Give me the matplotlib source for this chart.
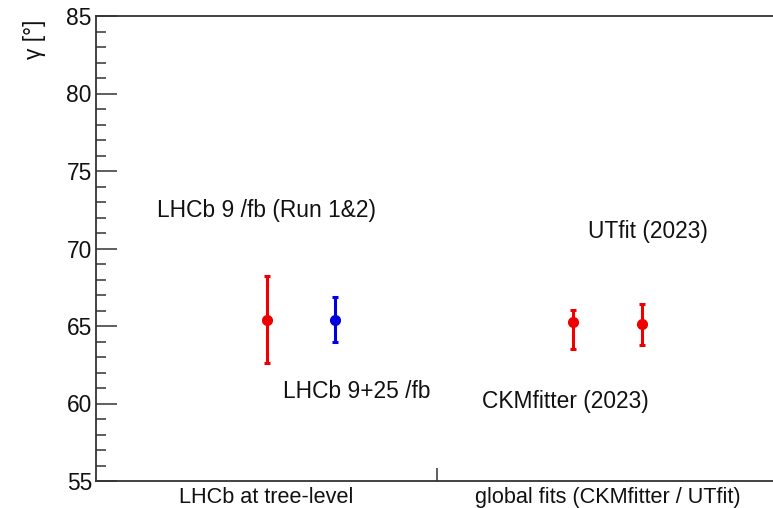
import numpy as np
import matplotlib.pyplot as plt
from matplotlib.ticker import MultipleLocator

plt.rcParams['font.family'] = ['Liberation Sans', 'DejaVu Sans']

# measurements of gamma [deg]
labels = ['LHCb 9 /fb (Run 1&2)', 'LHCb 9+25 /fb', 'CKMfitter (2023)', 'UTfit (2023)']
xpos = [0.5, 0.7, 1.4, 1.6]
gamma = [65.4, 65.4, 65.25, 65.1]
err_up = [2.8, 1.5, 0.8, 1.3]
err_dn = [2.8, 1.45, 1.75, 1.3]
colors = ['#ee0000', '#0000dd', '#ee0000', '#ee0000']
categories = ['LHCb at tree-level', 'global fits (CKMfitter / UTfit)']

# where the text labels sit (baseline)
label_xy = [(0.179, 72.03), (0.548, 60.35), (1.132, 59.71), (1.443, 70.68)]

fs = 16.4

fig = plt.figure(figsize=(7.73, 5.08), dpi=100)
ax = fig.add_axes([96/773, 1 - 481/508, 682/773, 465/508])

for x, y, up, dn, c in zip(xpos, gamma, err_up, err_dn, colors):
    ax.errorbar([x], [y], yerr=[[dn], [up]], fmt='o', color=c, ms=7,
                elinewidth=2.2, capsize=2.5, capthick=2.2)

for lab, (tx, ty) in zip(labels, label_xy):
    ax.text(tx, ty, lab, fontsize=fs, ha='left', va='baseline', color='#111111')

ax.set_xlim(0, 2)
ax.set_ylim(55, 85)
ax.yaxis.set_major_locator(MultipleLocator(5))
ax.yaxis.set_minor_locator(MultipleLocator(1))
ax.set_xticks([1])
ax.set_xticklabels([''])
ax.tick_params(axis='y', which='major', direction='in', length=15, width=1.1,
               labelsize=fs, pad=3, colors='#333333', labelcolor='#111111')
ax.tick_params(axis='y', which='minor', direction='in', length=7.5, width=1.1, colors='#333333')
ax.tick_params(axis='x', which='major', direction='in', length=9.5, width=1.1, colors='#333333')
for s in ax.spines.values():
    s.set_linewidth(1.3)
    s.set_color('#333333')

for i, cat in enumerate(categories):
    ax.text(0.5 + i, -0.035, cat, transform=ax.get_xaxis_transform(),
            ha='center', va='center', fontsize=15.6, color='#111111')

fig.text(35/773, 1 - 39/508, 'γ [°]', rotation=90, ha='center', va='center',
         fontsize=fs, color='#111111')

fig.savefig('out.png', dpi=100)
